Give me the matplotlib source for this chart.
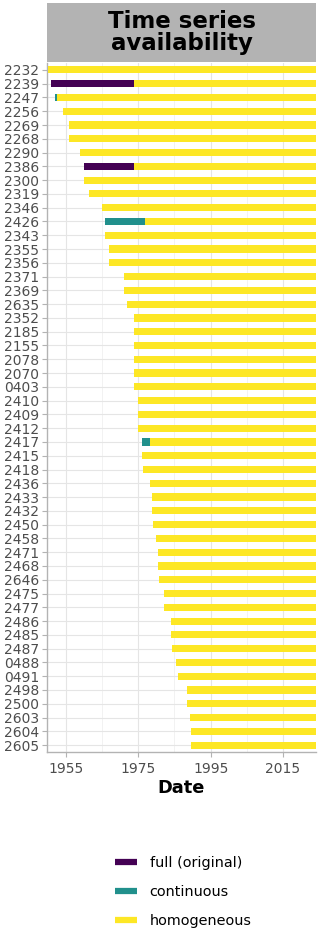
import matplotlib
matplotlib.use('Agg')
import matplotlib.pyplot as plt
from matplotlib.lines import Line2D
import numpy as np

stations = ['2232', '2239', '2247', '2256', '2269', '2268', '2290', '2386', '2300', '2319',
            '2346', '2426', '2343', '2355', '2356', '2371', '2369', '2635', '2352', '2185',
            '2155', '2078', '2070', '0403', '2410', '2409', '2412', '2417', '2415', '2418',
            '2436', '2433', '2432', '2450', '2458', '2471', '2468', '2646', '2475', '2477',
            '2486', '2485', '2487', '0488', '0491', '2498', '2500', '2603', '2604', '2605']

# start year of each series (full original, continuous, homogeneous)
full_start = [1950.0, 1950.9, 1951.9, 1954.2, 1955.9, 1956.0, 1958.9, 1959.9, 1960.0, 1961.4,
              1964.9, 1965.9, 1965.9, 1967.0, 1967.0, 1971.0, 1971.0, 1971.9, 1973.9, 1973.9,
              1973.9, 1973.9, 1973.9, 1973.9, 1975.0, 1975.0, 1975.0, 1976.0, 1976.0, 1976.2,
              1978.3, 1978.9, 1978.9, 1979.2, 1979.9, 1980.5, 1980.5, 1980.7, 1982.0, 1982.2,
              1984.0, 1984.0, 1984.2, 1985.3, 1986.0, 1988.5, 1988.5, 1989.3, 1989.5, 1989.7]
cont_start = [1950.0, 1973.8, 1951.9, 1954.2, 1955.9, 1956.0, 1958.9, 1973.8, 1960.0, 1961.4,
              1964.9, 1965.9, 1965.9, 1967.0, 1967.0, 1971.0, 1971.0, 1971.9, 1973.9, 1973.9,
              1973.9, 1973.9, 1973.9, 1973.9, 1975.0, 1975.0, 1975.0, 1976.0, 1976.0, 1976.2,
              1978.3, 1978.9, 1978.9, 1979.2, 1979.9, 1980.5, 1980.5, 1980.7, 1982.0, 1982.2,
              1984.0, 1984.0, 1984.2, 1985.3, 1986.0, 1988.5, 1988.5, 1989.3, 1989.5, 1989.7]
homog_start = [1950.0, 1973.8, 1952.5, 1954.2, 1955.9, 1956.0, 1958.9, 1973.8, 1960.0, 1961.4,
               1964.9, 1976.9, 1965.9, 1967.0, 1967.0, 1971.0, 1971.0, 1971.9, 1973.9, 1973.9,
               1973.9, 1973.9, 1973.9, 1973.9, 1975.0, 1975.0, 1975.0, 1978.2, 1976.0, 1976.2,
               1978.3, 1978.9, 1978.9, 1979.2, 1979.9, 1980.5, 1980.5, 1980.7, 1982.0, 1982.2,
               1984.0, 1984.0, 1984.2, 1985.3, 1986.0, 1988.5, 1988.5, 1989.3, 1989.5, 1989.7]
end_year = 2024.5

series = ['full (original)', 'continuous', 'homogeneous']
colors = ['#440154', '#21908C', '#FDE725']
starts = [full_start, cont_start, homog_start]

fig = plt.figure(figsize=(3.2, 9.32), dpi=100)
ax = fig.add_axes([47/320, 1-752/932, 269/320, 689/932])

y = np.arange(len(stations))
for st, col in zip(starts, colors):
    st = np.array(st)
    ax.barh(y, end_year - st, left=st, height=0.52, color=col, zorder=3)

ax.set_ylim(len(stations) - 0.5, -0.5)
ax.set_xlim(1949.8, 2024.1)
ax.set_yticks(y)
ax.set_yticklabels(stations)
ax.set_xticks([1955, 1975, 1995, 2015])
ax.set_xticks([1965, 1985, 2005], minor=True)
ax.tick_params(axis='both', which='major', labelsize=10, labelcolor='#4d4d4d',
               color='#b3b3b3', length=3.5, pad=2)
ax.tick_params(axis='x', which='major', pad=4)
ax.tick_params(axis='x', which='minor', length=0)
ax.grid(True, which='major', color='#e5e5e5', lw=0.8, zorder=0)
ax.grid(True, which='minor', axis='x', color='#f0f0f0', lw=0.6, zorder=0)
for s in ['top', 'right']:
    ax.spines[s].set_visible(False)
for s in ['left', 'bottom']:
    ax.spines[s].set_color('#b3b3b3')
    ax.spines[s].set_linewidth(1)
ax.set_xlabel('Date', fontsize=12.8, fontweight='bold', labelpad=2)

# title strip
strip = fig.add_axes([47/320, 1-62/932, 269/320, 59/932])
strip.set_facecolor('#b3b3b3')
strip.set_xticks([])
strip.set_yticks([])
for s in strip.spines.values():
    s.set_visible(False)
strip.text(0.5, 0.5, 'Time series\navailability', ha='center', va='center',
           fontsize=16.5, fontweight='bold', linespacing=0.95, transform=strip.transAxes)

handles = [Line2D([0], [0], color=c, lw=4.5, solid_capstyle='butt') for c in colors]
fig.legend(handles, series, loc='center left', bbox_to_anchor=(102/320, 1-892/932),
           frameon=False, fontsize=10.4, handlelength=1.55, handletextpad=0.85,
           labelspacing=1.05)

plt.savefig('out.png', dpi=100)
